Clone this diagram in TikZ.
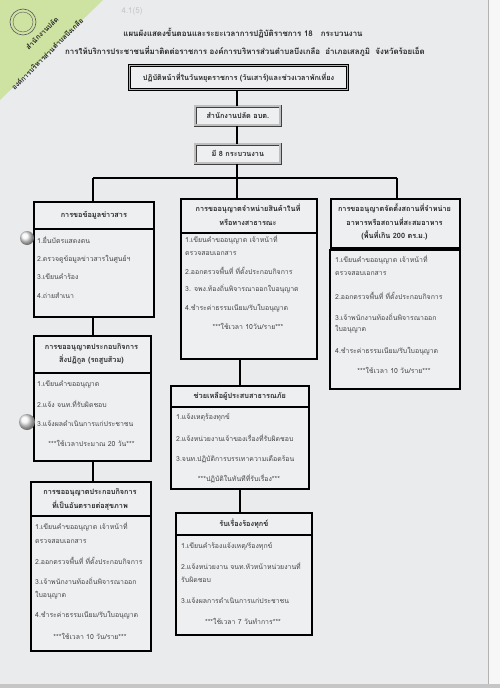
\documentclass[tikz,border=0pt]{standalone}
\usepackage{fontspec}
\newfontfamily\thai[Script=Thai]{Loma}
\definecolor{paper}{RGB}{233,235,237}
\definecolor{boxfill}{RGB}{237,239,241}
\definecolor{greentab}{RGB}{206,226,162}
\definecolor{ink}{RGB}{40,40,40}
\definecolor{lightink}{RGB}{70,70,70}
\tikzset{
  hdr/.style={draw=black, line width=1.7pt, fill=boxfill, inner sep=0pt, anchor=north west},
  topbox/.style={draw=black, line width=1.1pt, double=gray!60, double distance=0.7pt, fill=boxfill, inner sep=0pt, anchor=north west},
  midbox/.style={draw=black!75, line width=0.7pt, double=gray!50, double distance=2pt, fill=boxfill, inner sep=0pt, anchor=north west},
  conn/.style={line width=1.7pt, black},
  bt/.style={anchor=west, inner sep=0pt, text=lightink, font=\thai\fontsize{6.9}{7}\selectfont},
  bc/.style={anchor=center, inner sep=0pt, text=lightink, font=\thai\fontsize{6.9}{7}\selectfont},
  ht/.style={anchor=center, inner sep=0pt, text=ink, font=\thai\bfseries\fontsize{7.3}{8}\selectfont},
  tt/.style={anchor=center, inner sep=0pt, text=ink, font=\thai\bfseries\fontsize{7.9}{9}\selectfont},
  tabt/.style={rotate=45, inner sep=0pt, text=black!85, font=\thai\bfseries\fontsize{7}{8}\selectfont},
}
\begin{document}
\begin{tikzpicture}[x=1pt,y=-1pt]
\useasboundingbox (0,0) rectangle (500,688);
% paper
\fill[paper] (0,0) rectangle (500,688);
\fill[white!94!gray] (488,0) rectangle (500,688);
\draw[gray!60, line width=0.8pt] (488,0) -- (488,684);
\fill[gray!45] (0,684) rectangle (500,688);
% green tab
\fill[greentab] (0,0) -- (103,0) -- (0,100) -- cycle;
\draw[gray!70!black, line width=0.6pt] (23,22) circle (13);
\draw[gray!70!black, line width=0.4pt] (23,22) circle (10);
\node[tabt] (tab1) at (42,33) {สำนักงานปลัด};
\node[tabt] (tab2) at (47,54) {องค์การบริหารส่วนตำบลบึงเกลือ};
\node[inner sep=0pt, text=gray!45, font=\thai\fontsize{8}{9}\selectfont] (pen) at (132,11) {4.1(5)};
% titles
\node[tt] (title1) at (243,33) {แผนผังแสดงขั้นตอนและระยะเวลาการปฏิบัติราชการ 18~~~กระบวนงาน};
\node[tt] (title2) at (245,51) {การให้บริการประชาชนที่มาติดต่อราชการ องค์การบริหารส่วนตำบลบึงเกลือ~~อำเภอเสลภูมิ~~จังหวัดร้อยเอ็ด};
% top boxes
\node[topbox, minimum width=218pt, minimum height=24pt] (top) at (129,65) {};
\node[ht] (topt) at (top.center) {ปฏิบัติหน้าที่ในวันหยุดราชการ (วันเสาร์)และช่วงเวลาพักเที่ยง};
\node[midbox, minimum width=85pt, minimum height=19pt] (off) at (195,106) {};
\node[ht] (offt) at (off.center) {สำนักงานปลัด อบต.};
\node[midbox, minimum width=85pt, minimum height=19pt] (num) at (195,144) {};
\node[ht] (numt) at (num.center) {มี 8 กระบวนงาน};
% bus
\coordinate (busL) at (93,178);
\coordinate (busC) at (237,178);
\coordinate (busR) at (397,178);
\coordinate (cx) at (240,0);
% left column
\node[hdr, minimum width=120pt, minimum height=27pt] (hL1) at (33,201) {};
\node[hdr, minimum width=120pt, minimum height=88pt] (bL1) at (33,228) {};
\node[hdr, minimum width=117pt, minimum height=37pt] (hL2) at (33,335) {};
\node[hdr, minimum width=117pt, minimum height=88pt] (bL2) at (33,372) {};
\node[hdr, minimum width=120pt, minimum height=34pt] (hL3) at (30,481) {};
\node[hdr, minimum width=120pt, minimum height=135pt] (bL3) at (30,515) {};
% center column
\node[hdr, minimum width=136pt, minimum height=34pt] (hC1) at (180,198) {};
\node[hdr, minimum width=136pt, minimum height=126pt] (bC1) at (180,232) {};
\node[hdr, minimum width=138pt, minimum height=21pt] (hC2) at (170,385) {};
\node[hdr, minimum width=138pt, minimum height=82pt] (bC2) at (170,406) {};
\node[hdr, minimum width=136pt, minimum height=22pt] (hC3) at (175,512) {};
\node[hdr, minimum width=136pt, minimum height=100pt] (bC3) at (175,534) {};
% right column
\node[hdr, minimum width=129pt, minimum height=49pt] (hR1) at (330,198) {};
\node[hdr, minimum width=130pt, minimum height=139pt] (bR1) at (329,249) {};
% connectors
\draw[conn] (top.south -| busC) -- (off.north -| busC);
\draw[conn] (off.south -| busC) -- (num.north -| busC);
\draw[conn] (num.south -| busC) -- (busC);
\draw[conn] (busL) -- (busR);
\draw[conn] (busL) -- (busL |- hL1.north);
\draw[conn] (busC) -- (busC |- hC1.north);
\draw[conn] (busR) -- (busR |- hR1.north);
\draw[conn] (bL1.south -| busL) -- (hL2.north -| busL);
\draw[conn] (bL2.south -| busL) -- (hL3.north -| busL);
\draw[conn] (cx |- bC1.south) -- (cx |- hC2.north);
\draw[conn] (cx |- bC2.south) -- (cx |- hC3.north);
% left texts
\node[ht] (tL1) at (hL1.center) {การขอข้อมูลข่าวสาร};
\node[bt] (l1a) at (37,240) {1.ยื่นบัตรแสดงตน};
\node[bt] (l1b) at (37,259) {2.ตรวจดูข้อมูลข่าวสารในศูนย์ฯ};
\node[bt] (l1c) at (37,277) {3.เขียนคำร้อง};
\node[bt] (l1d) at (37,296) {4.ถ่ายสำเนา};
\node[ht] (tL2a) at (91.5,347) {การขออนุญาตประกอบกิจการ};
\node[ht] (tL2b) at (91.5,360) {สิ่งปฏิกูล (รถสูบส้วม)};
\node[bt] (l2a) at (37,384) {1.เขียนคำขออนุญาต};
\node[bt] (l2b) at (37,404) {2.แจ้ง จนท.ที่รับผิดชอบ};
\node[bt] (l2c) at (37,424) {3.แจ้งผลดำเนินการแก่ประชาชน};
\node[bc] (l2d) at (91.5,443) {***ใช้เวลาประมาณ 20 วัน***};
\node[ht] (tL3a) at (90,492) {การขออนุญาตประกอบกิจการ};
\node[ht] (tL3b) at (90,506) {ที่เป็นอันตรายต่อสุขภาพ};
\node[bt] (l3a) at (35,527) {1.เขียนคำขออนุญาต เจ้าหน้าที่};
\node[bt] (l3b) at (35,541) {ตรวจสอบเอกสาร};
\node[bt] (l3c) at (35,561) {2.ออกตรวจพื้นที่ ที่ตั้งประกอบกิจการ};
\node[bt] (l3d) at (35,581) {3.เจ้าพนักงานท้องถิ่นพิจารณาออก};
\node[bt] (l3e) at (35,595) {ใบอนุญาต};
\node[bt] (l3f) at (35,615) {4.ชำระค่าธรรมเนียม/รับใบอนุญาต};
\node[bc] (l3g) at (90,636) {***ใช้เวลา 10 วัน/ราย***};
% center texts
\node[ht] (tC1a) at (248,209) {การขออนุญาตจำหน่ายสินค้าในที่};
\node[ht] (tC1b) at (248,222) {หรือทางสาธารณะ};
\node[bt] (c1a) at (185,240) {1.เขียนคำขออนุญาต เจ้าหน้าที่};
\node[bt] (c1b) at (185,253) {ตรวจสอบเอกสาร};
\node[bt] (c1c) at (185,271) {2.ออกตรวจพื้นที่ ที่ตั้งประกอบกิจการ};
\node[bt] (c1d) at (185,289) {3. จพง.ท้องถิ่นพิจารณาออกใบอนุญาต};
\node[bt] (c1e) at (185,308) {4.ชำระค่าธรรมเนียม/รับใบอนุญาต};
\node[bc] (c1f) at (248,326) {***ใช้เวลา 10วัน/ราย***};
\node[ht] (tC2) at (hC2.center) {ช่วยเหลือผู้ประสบสาธารณภัย};
\node[bt] (c2a) at (176,417) {1.แจ้งเหตุร้องทุกข์};
\node[bt] (c2b) at (176,438) {2.แจ้งหน่วยงานเจ้าของเรื่องที่รับผิดชอบ};
\node[bt] (c2c) at (176,459) {3.จนท.ปฏิบัติการบรรเทาความเดือดร้อน};
\node[bc] (c2d) at (239,479) {***ปฏิบัติในทันทีที่รับเรื่อง***};
\node[ht] (tC3) at (hC3.center) {รับเรื่องร้องทุกข์};
\node[bt] (c3a) at (181,546) {1.เขียนคำร้องแจ้งเหตุ/ร้องทุกข์};
\node[bt] (c3b) at (181,566) {2.แจ้งหน่วยงาน จนท.หัวหน้าหน่วยงานที่};
\node[bt] (c3c) at (181,580) {รับผิดชอบ};
\node[bt] (c3d) at (181,601) {3.แจ้งผลการดำเนินการแก่ประชาชน};
\node[bc] (c3e) at (243,621) {***ใช้เวลา 7 วันทำการ***};
% right texts
\node[ht] (tR1a) at (394.5,209) {การขออนุญาตจัดตั้งสถานที่จำหน่าย};
\node[ht] (tR1b) at (394.5,222) {อาหารหรือสถานที่สะสมอาหาร};
\node[ht] (tR1c) at (394.5,235) {(พื้นที่เกิน 200 ตร.ม.)};
\node[bt] (r1a) at (335,260) {1.เขียนคำขออนุญาต เจ้าหน้าที่};
\node[bt] (r1b) at (335,273) {ตรวจสอบเอกสาร};
\node[bt] (r1c) at (335,296) {2.ออกตรวจพื้นที่ ที่ตั้งประกอบกิจการ};
\node[bt] (r1d) at (335,317) {3.เจ้าพนักงานท้องถิ่นพิจารณาออก};
\node[bt] (r1e) at (335,329) {ใบอนุญาต};
\node[bt] (r1f) at (335,351) {4.ชำระค่าธรรมเนียม/รับใบอนุญาต};
\node[bc] (r1g) at (394,370) {***ใช้เวลา 10 วัน/ราย***};
% binder holes
\shade[ball color=white!92!gray] (27,238) circle (7);
\shade[ball color=white!92!gray] (27,422) circle (8);
\end{tikzpicture}
\end{document}
